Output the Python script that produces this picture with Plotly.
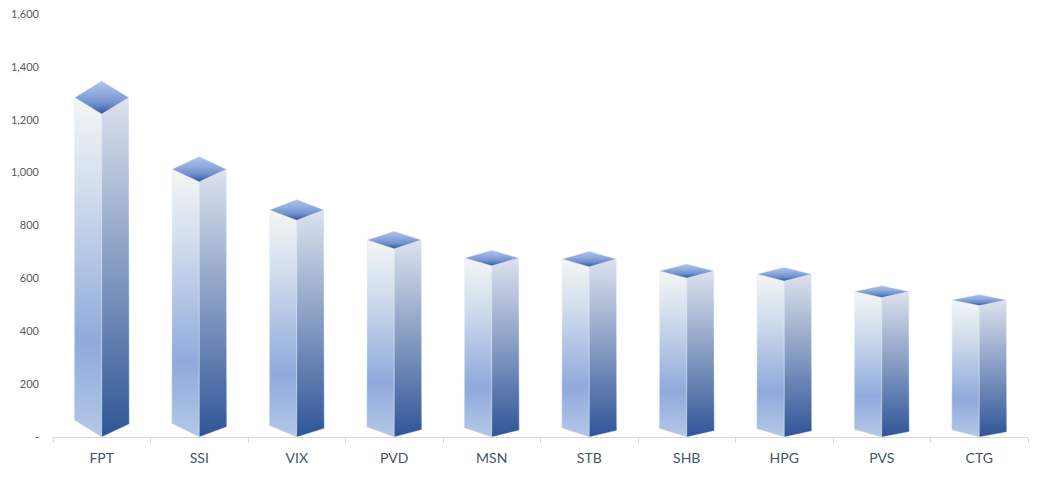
import plotly.graph_objects as go

# Values
tickers = ['FPT', 'SSI', 'VIX', 'PVD', 'MSN', 'STB', 'SHB', 'HPG', 'PVS', 'CTG']
values = [1284, 1013, 859, 745, 677, 673, 628, 616, 550, 518]
y_ticks = [0, 200, 400, 600, 800, 1000, 1200, 1400, 1600]
y_labels = ['-', '200', '400', '600', '800', '1,000', '1,200', '1,400', '1,600']

UNITS_PER_PX = 1600 / 423
HALF_WIDTH = 0.282
TOP_HALF_WIDTH = 0.277

# Gradients run from the lowest point of a face to the highest
LEFT_COLORS = [[0, '#B4C7E7'], [0.28, '#8FAADC'], [0.75, '#D5E0EE'], [1, '#F3F6F4']]
RIGHT_COLORS = [[0, '#2F5597'], [1, '#DCE2ED']]
TOP_COLORS = [[0, '#2F5597'], [0.3, '#6E8FCE'], [0.6, '#8FAADC'], [1, '#AEC3EA']]

fig = go.Figure()


def add_face(xs, ys, colors, edge):
    fig.add_trace(go.Scatter(
        x=xs + xs[:1], y=ys + ys[:1], mode='lines', fill='toself',
        line=dict(color=edge, width=1),
        fillgradient=dict(type='vertical', colorscale=colors),
        hoverinfo='skip', showlegend=False))


for i, value in enumerate(values):
    # the perspective gets stronger the taller the column is
    top_depth = (value - 135) * 0.01436 * UNITS_PER_PX
    left_base = (7 + (value - 518) * 10 / 766) * UNITS_PER_PX
    right_base = (5 + (value - 518) * 8 / 766) * UNITS_PER_PX

    left, right = i - HALF_WIDTH, i + HALF_WIDTH
    top_left, top_right = i - TOP_HALF_WIDTH, i + TOP_HALF_WIDTH
    front_top = value - top_depth

    add_face([left, i, i, top_left], [left_base, 0, front_top, value],
             LEFT_COLORS, 'rgba(222,232,247,0.45)')
    add_face([i, right, top_right, i], [0, right_base, value, front_top],
             RIGHT_COLORS, 'rgba(222,232,247,0.4)')
    add_face([top_left, i, top_right, i],
             [value, front_top, value, value + top_depth],
             TOP_COLORS, 'rgba(222,232,247,0.4)')

fig.update_xaxes(
    range=[-0.5, 9.5], tickvals=list(range(len(tickers))), ticktext=tickers,
    ticks='', showgrid=False, zeroline=False, showline=True, automargin=False,
    linecolor='#D9D9D9', linewidth=1, ticklabelstandoff=8,
    tickfont=dict(family='Lato', size=14, color='#44546A'),
    minor=dict(tickvals=[i - 0.5 for i in range(len(tickers) + 1)],
               ticks='outside', ticklen=5, tickcolor='#D9D9D9', tickwidth=1, showgrid=False))
fig.update_yaxes(
    range=[0, 1600], tickvals=y_ticks, ticktext=y_labels, ticks='', automargin=False,
    showgrid=False, zeroline=False, showline=False, ticklabelstandoff=13,
    ticklabeloverflow='allow',
    tickfont=dict(family='Lato', size=11, color='#595959'))
# the page has an 8px body margin, so the figure is 16px smaller than the window
fig.update_layout(
    width=1032, height=463, autosize=False,
    margin=dict(l=45.4, r=11.6, t=6, b=34),
    paper_bgcolor='white', plot_bgcolor='white', showlegend=False)

fig.write_html("out.html")
